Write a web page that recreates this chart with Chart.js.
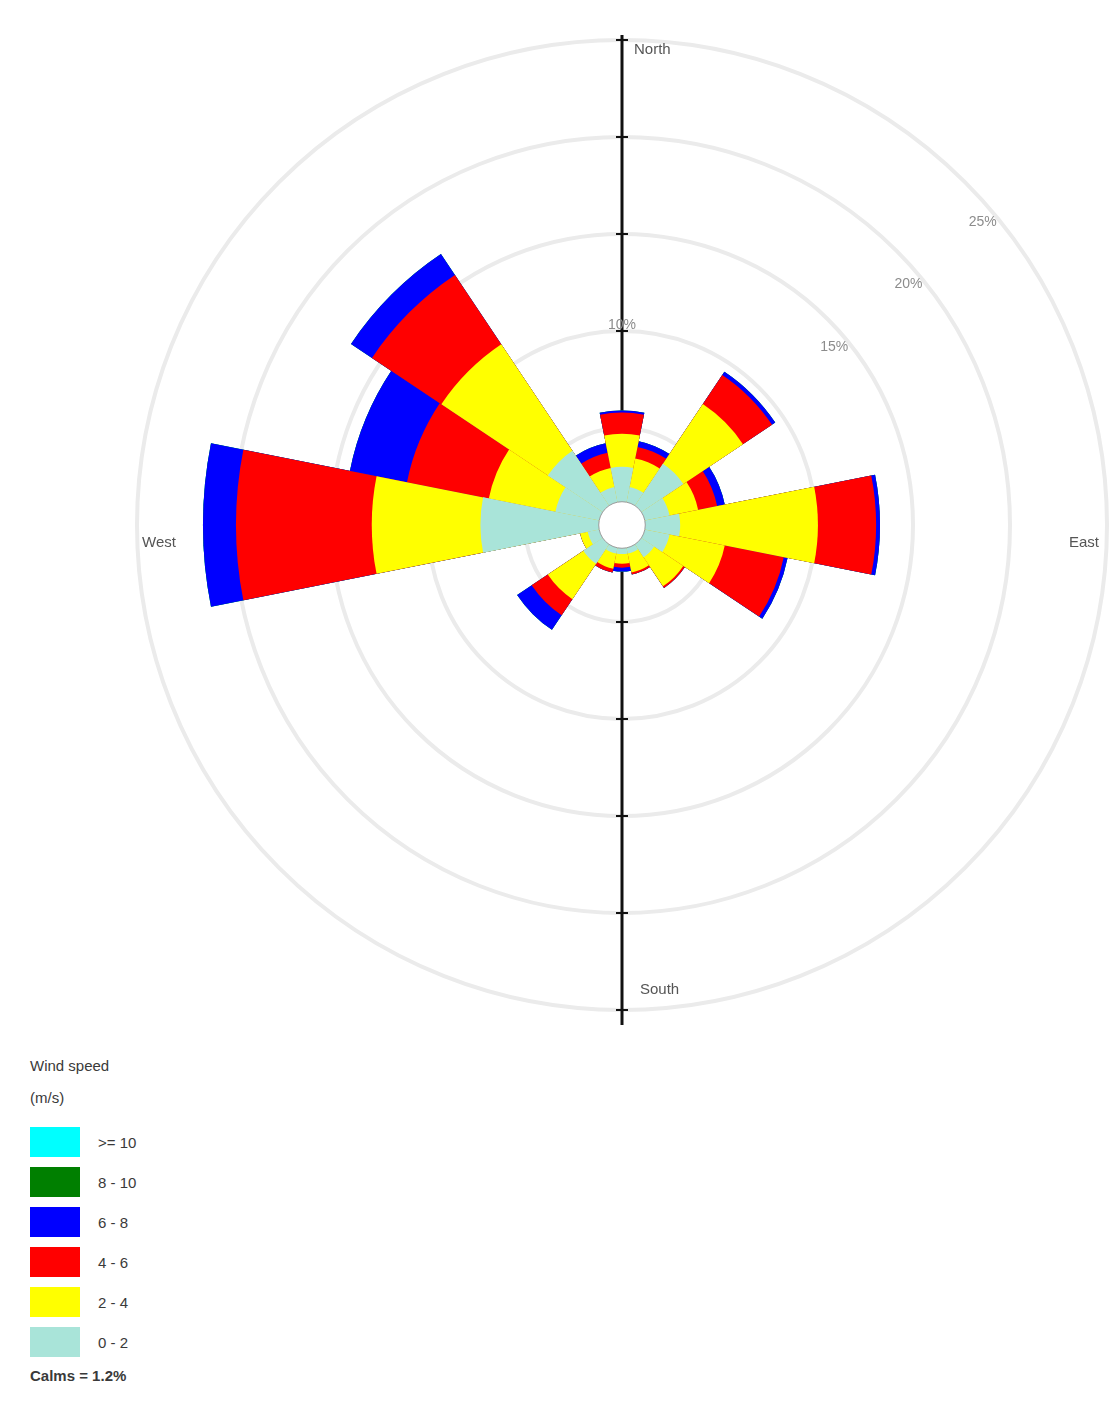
<!DOCTYPE html>
<html>
<head>
<meta charset="utf-8">
<title>Wind rose</title>
<script src="https://cdn.jsdelivr.net/npm/chart.js@4.4.1/dist/chart.umd.min.js"></script>
<style>
  html, body { margin: 0; padding: 0; background: #ffffff; }
  body { width: 1110px; height: 1407px; position: relative; overflow: hidden;
         font-family: "Liberation Sans", Arial, sans-serif; }
  #rose { position: absolute; left: 0; top: 0; }
  #legend { position: absolute; left: 30px; top: 1050px; color: #3a3a3a; font-size: 15px; }
  #legend .title div { height: 32px; line-height: 32px; }
  #legend .title { margin-bottom: 13px; }
  #legend .row { display: flex; align-items: center; height: 30px; margin-bottom: 10px; }
  #legend .sw { width: 50px; height: 30px; margin-right: 18px; }
  #legend .calm { margin-top: 6px; font-weight: bold; }
</style>
</head>
<body>
<canvas id="rose" width="1110" height="1040"></canvas>
<div id="legend"></div>

<script>
// Compass sectors, clockwise from north
const directions = ['N', 'NNE', 'NE', 'ENE', 'E', 'ESE', 'SE', 'SSE',
                    'S', 'SSW', 'SW', 'WSW', 'W', 'WNW', 'NW', 'NNW'];

// Wind speed classes (m/s), slowest first
const speedBins = ['0 - 2', '2 - 4', '4 - 6', '6 - 8', '8 - 10', '>= 10'];
const binColors = ['#a9e4d9', '#ffff00', '#ff0000', '#0000ff', '#007f00', '#00ffff'];

// Frequency (%) of each speed class per direction
const freq0to2  = [3.0, 2.0, 3.8, 2.5, 3.0, 2.5, 2.0, 1.5, 1.5, 1.5, 2.4, 1.8, 7.3, 3.5, 4.6, 2.0];
const freq2to4  = [1.7, 1.5, 3.7, 1.5, 7.1, 2.9, 1.8, 1.0, 0.5, 0.8, 2.2, 0.4, 5.6, 3.5, 6.6, 1.0];
const freq4to6  = [1.1, 0.6, 1.8, 1.0, 3.0, 3.1, 0.1, 0.1, 0.2, 0.2, 1.0, 0.0, 7.0, 4.3, 4.3, 0.8];
const freq6to8  = [0.1, 0.3, 0.2, 0.4, 0.2, 0.2, 0.0, 0.0, 0.2, 0.0, 0.9, 0.0, 1.7, 3.0, 1.3, 0.5];
const freq8to10 = [0.0, 0.0, 0.0, 0.0, 0.0, 0.0, 0.0, 0.0, 0.0, 0.0, 0.0, 0.0, 0.0, 0.0, 0.0, 0.0];
const freqOver10 = [0.0, 0.0, 0.0, 0.0, 0.0, 0.0, 0.0, 0.0, 0.0, 0.0, 0.0, 0.0, 0.0, 0.0, 0.0, 0.0];

const calmPercent = 1.2;               // calm share, shown as the centre circle
const ringTicks = [5, 10, 15, 20, 25];  // frequency rings (%)
const compassLabels = ['North', 'East', 'South', 'West'];
const legendTitle = ['Wind speed', '(m/s)'];

// Stack the classes: each ring reaches the running total of the slower classes
const classSeries = [freq0to2, freq2to4, freq4to6, freq6to8, freq8to10, freqOver10];
const running = directions.map(() => 0);
const datasets = classSeries.map((series, k) => {
  const cum = series.map((v, i) => (running[i] = +(running[i] + v).toFixed(2)));
  return {
    label: speedBins[k],
    data: cum,
    backgroundColor: binColors[k],
    borderWidth: 0,
    order: k
  };
});

const FONT = '"Liberation Sans", Arial, sans-serif';

const roseDecor = {
  id: 'roseDecor',
  beforeDatasetsDraw(chart) {
    const s = chart.scales.r;
    const ctx = chart.ctx;
    const cx = s.xCenter, cy = s.yCenter, R = s.drawingArea;
    ctx.save();
    // vertical axis through the centre
    ctx.strokeStyle = '#111';
    ctx.lineWidth = 3;
    ctx.beginPath();
    ctx.moveTo(cx, cy - R - 5);
    ctx.lineTo(cx, cy + R + 15);
    ctx.stroke();
    ctx.lineWidth = 2;
    ringTicks.forEach(v => {
      const d = s.getDistanceFromCenterForValue(v);
      [cy - d, cy + d].forEach(y => {
        ctx.beginPath();
        ctx.moveTo(cx - 6, y);
        ctx.lineTo(cx + 6, y);
        ctx.stroke();
      });
    });
    // ring labels
    ctx.fillStyle = '#8c8c8c';
    ctx.font = '14px ' + FONT;
    ctx.textAlign = 'center';
    ctx.textBaseline = 'middle';
    const a = 50 * Math.PI / 180;
    ringTicks.forEach(v => {
      const d = s.getDistanceFromCenterForValue(v);
      if (v <= 10) {
        ctx.fillText(v + '%', cx, cy - d - 6);
      } else {
        const r = d - 14;
        ctx.fillText(v + '%', cx + r * Math.sin(a), cy - r * Math.cos(a));
      }
    });
    // compass labels
    ctx.fillStyle = '#555';
    ctx.font = '15px ' + FONT;
    ctx.textAlign = 'left';
    ctx.fillText(compassLabels[0], cx + 12, cy - R + 10);
    ctx.fillText(compassLabels[2], cx + 18, cy + R - 20);
    ctx.fillText(compassLabels[3], cx - R + 5, cy + 18);
    ctx.textAlign = 'right';
    ctx.fillText(compassLabels[1], cx + R - 8, cy + 18);
    ctx.restore();
  },
  afterDatasetsDraw(chart) {
    const s = chart.scales.r;
    const ctx = chart.ctx;
    // calm circle at the centre
    const rc = s.getDistanceFromCenterForValue(calmPercent);
    ctx.save();
    ctx.beginPath();
    ctx.arc(s.xCenter, s.yCenter, rc, 0, Math.PI * 2);
    ctx.fillStyle = '#ffffff';
    ctx.fill();
    ctx.lineWidth = 1;
    ctx.strokeStyle = '#9a9a9a';
    ctx.stroke();
    ctx.restore();
  }
};

new Chart(document.getElementById('rose'), {
  type: 'polarArea',
  data: { labels: directions, datasets },
  options: {
    responsive: false,
    animation: false,
    layout: { padding: { left: 137, top: 40, right: 3, bottom: 30 } },
    plugins: { legend: { display: false }, tooltip: { enabled: false } },
    scales: {
      r: {
        min: 0,
        max: ringTicks[ringTicks.length - 1],
        startAngle: -360 / directions.length / 2,
        ticks: { display: false, stepSize: 5 },
        grid: { color: '#ebebeb', lineWidth: 4, circular: true },
        angleLines: { display: false },
        pointLabels: { display: false }
      }
    }
  },
  plugins: [roseDecor]
});

// Legend: fastest class on top
const legend = document.getElementById('legend');
const title = document.createElement('div');
title.className = 'title';
legendTitle.forEach(t => {
  const line = document.createElement('div');
  line.textContent = t;
  title.appendChild(line);
});
legend.appendChild(title);
for (let k = speedBins.length - 1; k >= 0; k--) {
  const row = document.createElement('div');
  row.className = 'row';
  const sw = document.createElement('div');
  sw.className = 'sw';
  sw.style.background = binColors[k];
  const txt = document.createElement('span');
  txt.textContent = speedBins[k];
  row.appendChild(sw);
  row.appendChild(txt);
  legend.appendChild(row);
}
const calm = document.createElement('div');
calm.className = 'calm';
calm.textContent = 'Calms = ' + calmPercent + '%';
legend.appendChild(calm);
</script>
</body>
</html>
